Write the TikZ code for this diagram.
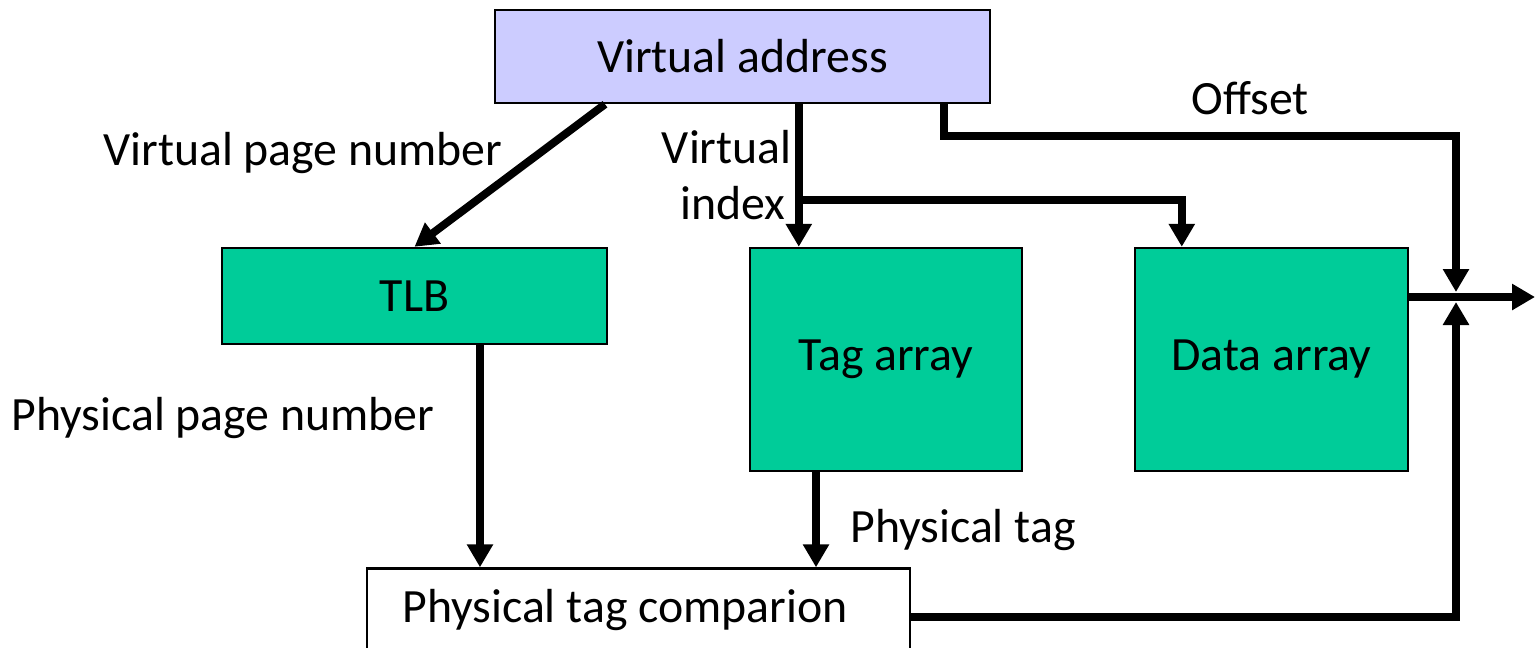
\documentclass[tikz,border=0pt]{standalone}
\usepackage{fontspec}
\setmainfont{Carlito}
\usepackage{xcolor}
\usetikzlibrary{arrows.meta, positioning, calc}

\definecolor{vacolor}{HTML}{CCCCFF}
\definecolor{arrcolor}{HTML}{00CC99}

\tikzset{
    blk/.style={draw, line width=1.4pt, inner sep=0pt},
    arr/.style={line width=4.5pt, -{Triangle[length=0.46cm, width=0.5cm]}},
    lbl/.style={inner sep=0pt, font=\fontsize{27.2}{33}\selectfont},
}

\begin{document}
\begin{tikzpicture}[x=0.02cm, y=-0.02cm, font=\fontsize{27.2}{33}\selectfont]
        \clip (0,0) rectangle (1535,647);
        \useasboundingbox (0,0) rectangle (1535,647);

        \node[blk, fill=vacolor, minimum width=9.9cm, minimum height=1.86cm] at (742.5,56.5) (va) {Virtual address};
        \node[blk, fill=arrcolor, minimum width=7.7cm, minimum height=1.92cm] at (414.5,296) (tlb) {TLB};
        \node[blk, fill=arrcolor, minimum width=5.44cm, minimum height=4.46cm] at (886,359.5) (tag) {Tag array};
        \node[blk, fill=arrcolor, minimum width=5.46cm, minimum height=4.46cm] at (1271.5,359.5) (data) {Data array};
        \node[blk, fill=white, minimum width=10.86cm, minimum height=2.3cm] at (638.5,626) (cmp) {};
        \node[lbl] at (625,610) (cmptxt) {Physical tag comparion};

        \coordinate (out) at (1456,297);
        \coordinate (outend) at (1535,297);
        \coordinate (vi) at ([xshift=1cm]tag.north west);
        \coordinate (br) at (800,200);
        \coordinate (di) at ([xshift=0.96cm]data.north west);
        \coordinate (tlbout) at ([xshift=1.31cm]tlb.south);
        \coordinate (tagout) at ([xshift=-1.4cm]tag.south);

        % virtual page number
        \draw[arr] ([xshift=-2.75cm]va.south) -- (tlb.north);
        % virtual index
        \draw[arr] (va.south -| vi) -- (vi);
        \draw[arr] (br) -| (di);
        % offset
        \draw[arr] ([xshift=-0.94cm]va.south east) -- ++(0,32) -| ([yshift=0.1cm]out);
        \draw[arr] (data.east |- out) -- (outend);
        % physical tags
        \draw[arr] (tlbout) -- (tlbout |- cmp.north);
        \draw[arr] (tagout) -- (tagout |- cmp.north);
        \draw[arr] (cmp.east |- 617,617) -| ([yshift=-0.1cm]out);

        \node[lbl] at (303,153) (vpn) {Virtual page number};
        \node[lbl, anchor=east] at (792,147) (vi1) {Virtual};
        \node[lbl, anchor=east] at (786,203) (vi2) {index};
        \node[lbl] at (1250,98) (off) {Offset};
        \node[lbl] at (223,418) (ppn) {Physical page number};
        \node[lbl] at (963,530) (ptag) {Physical tag};
    \end{tikzpicture}
\end{document}
